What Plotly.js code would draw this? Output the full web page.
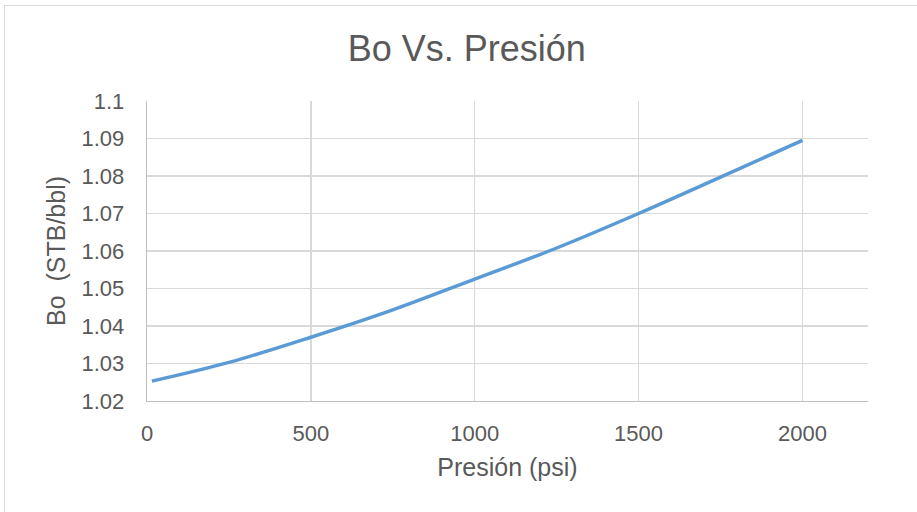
<!DOCTYPE html>
<html>
<head>
<meta charset="utf-8">
<script src="https://cdn.plot.ly/plotly-3.0.1.min.js"></script>
<style>
html,body{margin:0;padding:0;width:917px;height:512px;overflow:hidden;background:#fff;}
#chart{position:absolute;left:0;top:0;width:917px;height:512px;}
#frame{position:absolute;left:4px;top:5px;width:1000px;height:1000px;border:1px solid #d9d9d9;pointer-events:none;}
</style>
</head>
<body>
<div id="chart"></div>
<div id="frame"></div>
<script>
const pressure = [14.7, 250, 500, 750, 1000, 1250, 1500, 1750, 2000];
const bo = [1.0253, 1.0303, 1.0370, 1.0443, 1.0525, 1.0608, 1.0700, 1.0797, 1.0895];
const xTicks = [0, 500, 1000, 1500, 2000];
const yTicks = [1.02, 1.03, 1.04, 1.05, 1.06, 1.07, 1.08, 1.09, 1.1];
const yTickText = ['1.02','1.03','1.04','1.05','1.06','1.07','1.08','1.09','1.1'];

const txt = '#595959';
const fontFam = 'Liberation Sans, Arial, sans-serif';

const trace = {
  x: pressure, y: bo, type: 'scatter', mode: 'lines',
  line: {color: '#5B9BD5', width: 3.5, shape: 'spline'},
  hoverinfo: 'x+y'
};

const layout = {
  width: 917, height: 512,
  paper_bgcolor: 'rgba(0,0,0,0)', plot_bgcolor: '#fff',
  margin: {l: 147, r: 49, t: 101, b: 111},
  showlegend: false,
  font: {family: fontFam, color: txt},
  title: {text: 'Bo Vs. Presión', font: {size: 36, color: txt, family: fontFam},
          x: 0.509, xref: 'container', xanchor: 'center', y: 0.905, yref: 'container', yanchor: 'middle'},
  xaxis: {
    range: [0, 2200], tickvals: xTicks, ticktext: xTicks.map(String),
    showgrid: true, gridcolor: '#d9d9d9', gridwidth: 1.3,
    showline: true, linecolor: '#bfbfbf', linewidth: 1.3,
    zeroline: false, ticks: 'outside', ticklen: 12, tickcolor: 'rgba(0,0,0,0)',
    tickfont: {size: 22, color: txt},
    title: {text: 'Presión (psi)', font: {size: 25, color: txt}, standoff: 13},
    automargin: false
  },
  yaxis: {
    range: [1.02, 1.1], tickvals: yTicks, ticktext: yTickText,
    showgrid: true, gridcolor: '#d9d9d9', gridwidth: 1.3,
    showline: true, linecolor: '#bfbfbf', linewidth: 1.3,
    zeroline: false, ticks: 'outside', ticklen: 17, tickcolor: 'rgba(0,0,0,0)',
    tickfont: {size: 22, color: txt},
    title: {text: 'Bo  (STB/bbl)', font: {size: 25, color: txt}, standoff: 8},
    automargin: false
  }
};

Plotly.newPlot('chart', [trace], layout, {displayModeBar: false, staticPlot: true});
</script>
</body>
</html>
